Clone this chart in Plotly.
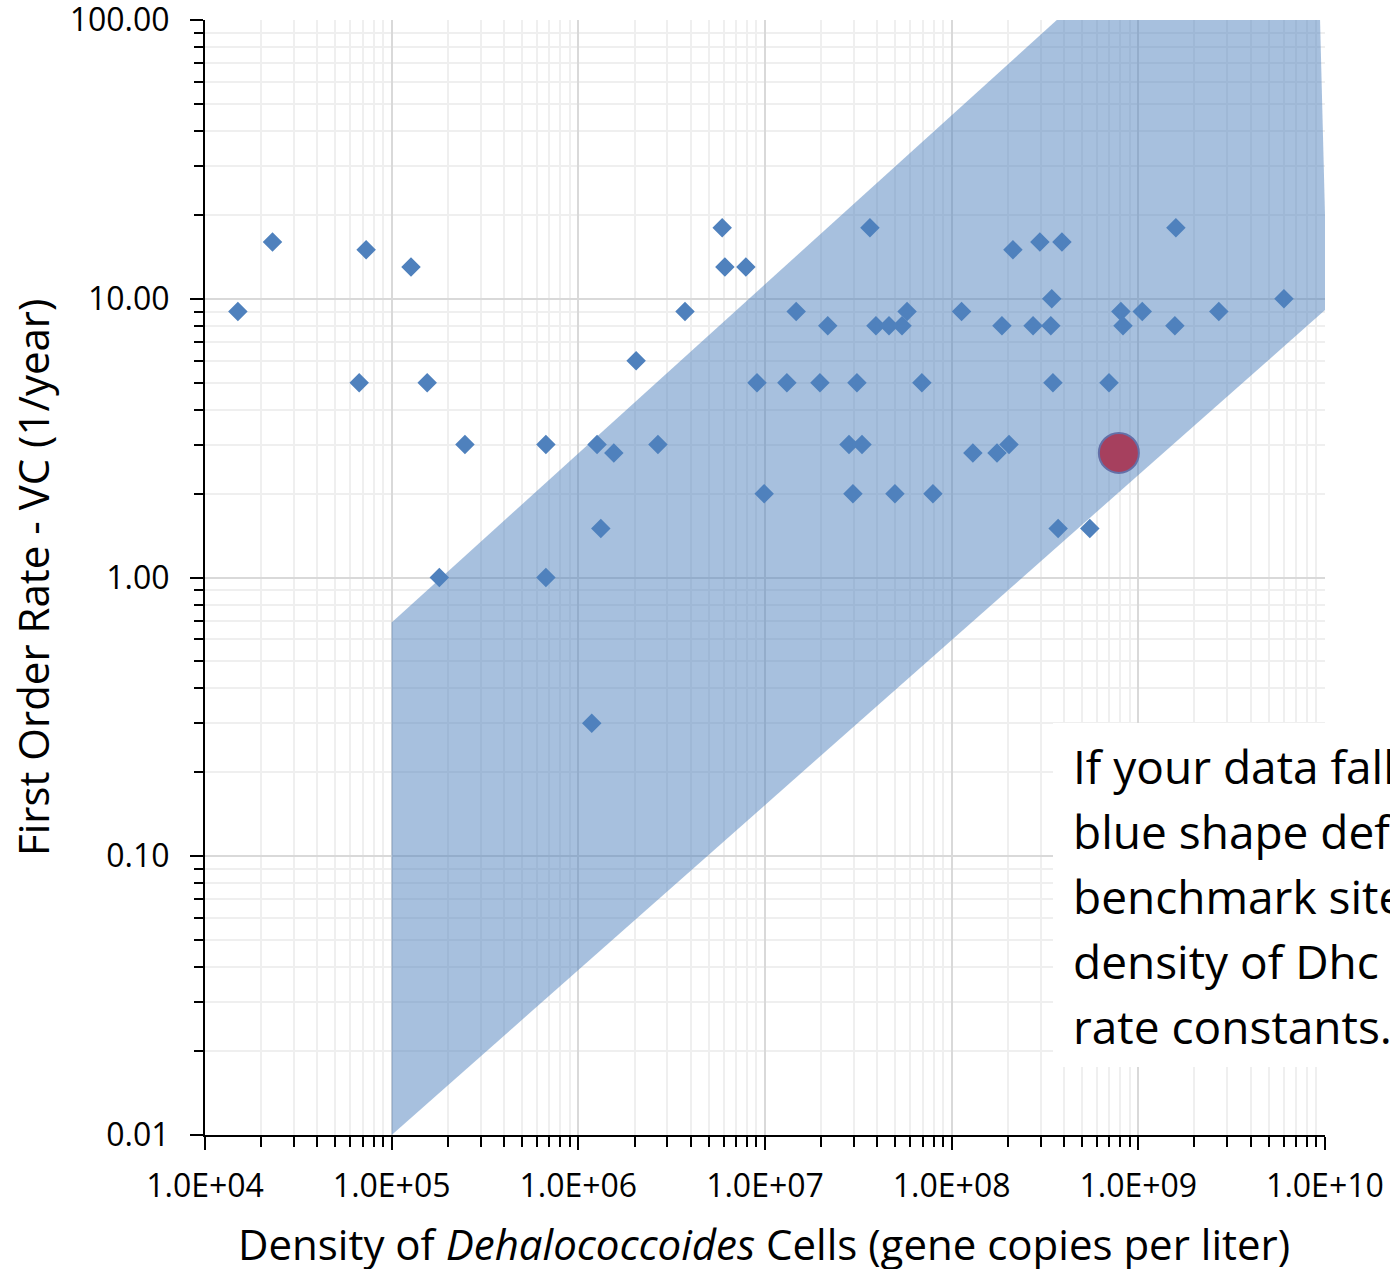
import plotly.graph_objects as go

# ---- data ----
dhc_density = [1.5e4, 2.3e4, 7.3e4, 6.7e4, 1.27e5, 1.55e5, 2.47e5, 1.8e5, 6.7e5, 6.7e5,
               1.18e6, 1.26e6, 1.32e6, 1.55e6, 2.04e6, 2.67e6, 3.73e6, 5.9e6, 6.1e6, 7.9e6,
               9.06e6, 9.9e6, 1.31e7, 1.47e7, 1.97e7, 2.17e7, 2.82e7, 2.96e7, 3.11e7, 3.31e7,
               3.65e7, 3.93e7, 4.62e7, 4.97e7, 5.42e7, 5.77e7, 6.93e7, 7.94e7, 1.13e8, 1.3e8,
               1.75e8, 2.03e8, 1.86e8, 2.13e8, 2.97e8, 2.73e8, 3.4e8, 3.44e8, 3.49e8, 3.72e8,
               3.9e8, 5.5e8, 6.97e8, 8.07e8, 8.28e8, 1.05e9, 1.57e9, 1.59e9, 2.7e9, 6.03e9]
vc_rate = [9, 16, 15, 5, 13, 5, 3, 1, 3, 1,
           0.3, 3, 1.5, 2.8, 6, 3, 9, 18, 13, 13,
           5, 2, 5, 9, 5, 8, 3, 2, 5, 3,
           18, 8, 8, 2, 8, 9, 5, 2, 9, 2.8,
           2.8, 3, 8, 15, 16, 8, 8, 10, 5, 1.5,
           16, 1.5, 5, 9, 8, 9, 8, 18, 9, 10]

your_site_density = [7.87e8]
your_site_rate = [2.8]

# benchmark envelope (polygon vertices)
envelope_x = [1e5, 1e5, 3.9e8, 9.4e9, 1.03e10, 1e5]
envelope_y = [0.01, 0.69, 104, 104, 9.27, 0.01]

x_tickvals = [1e4, 1e5, 1e6, 1e7, 1e8, 1e9, 1e10]
x_ticktext = ["1.0E+04", "1.0E+05", "1.0E+06", "1.0E+07", "1.0E+08", "1.0E+09", "1.0E+10"]
y_tickvals = [0.01, 0.1, 1, 10, 100]
y_ticktext = ["0.01", "0.10", "1.00", "10.00", "100.00"]

x_title = "Density of <i>Dehalococcoides</i> Cells (gene copies per liter)"
y_title = "First Order Rate - VC (1/year)"

note_lines = ["If your data falls within the",
              "blue shape defined by the",
              "benchmark sites, the",
              "density of Dhc supports the",
              "rate constants."]

x_minor = [k * 10 ** d for d in range(4, 10) for k in range(2, 10)]
y_minor = [k * 10.0 ** d for d in range(-2, 2) for k in range(2, 10)]

FONT = "Open Sans"

fig = go.Figure()
fig.add_trace(go.Scatter(x=envelope_x, y=envelope_y, mode="lines", fill="toself",
                         fillcolor="rgba(79,129,189,0.5)", line=dict(width=0),
                         hoverinfo="skip", showlegend=False))
fig.add_trace(go.Scatter(x=dhc_density, y=vc_rate, mode="markers",
                         marker=dict(symbol="diamond", size=15, color="#4f81bd",
                                     line=dict(width=0)),
                         showlegend=False))
fig.add_trace(go.Scatter(x=your_site_density, y=your_site_rate, mode="markers",
                         marker=dict(symbol="circle", size=40, color="#a6405e",
                                     line=dict(width=2, color="#6470a8")),
                         showlegend=False))

axis_common = dict(
    type="log", showline=True, linecolor="black", linewidth=2, mirror=False,
    ticks="outside", ticklen=13, tickwidth=2, tickcolor="black",
    showgrid=True, gridcolor="#d9d9d9", gridwidth=1.5, zeroline=False,
    tickfont=dict(family=FONT, size=32, color="black"), automargin=False,
    ticklabeloverflow="allow",
)

fig.update_xaxes(**axis_common, range=[4, 10.0003], tickmode="array",
                 tickvals=x_tickvals, ticktext=x_ticktext, ticklabelstandoff=9,
                 minor=dict(tickvals=x_minor, ticks="outside", ticklen=10, tickwidth=2,
                            tickcolor="black", showgrid=True, gridcolor="#efefef",
                            gridwidth=1.5))
fig.update_yaxes(**axis_common, range=[-2, 2.0003], tickmode="array",
                 tickvals=y_tickvals, ticktext=y_ticktext, ticklabelstandoff=14,
                 minor=dict(tickvals=y_minor, ticks="outside", ticklen=9, tickwidth=2,
                            tickcolor="black", showgrid=True, gridcolor="#efefef",
                            gridwidth=1.5))

W, H = 1390, 1269
ml, mr, mt, mb = 205, 65, 20, 134
pw, ph = W - ml - mr, H - mt - mb

def px_x(p):
    return (p - ml) / pw

def px_y(p):
    return (H - mb - p) / ph

# axis titles
fig.add_annotation(xref="paper", yref="paper", x=px_x(764), y=px_y(1243),
                   text=x_title, showarrow=False, xanchor="center", yanchor="middle",
                   font=dict(family=FONT, size=42, color="black"))
fig.add_annotation(xref="paper", yref="paper", x=px_x(33), y=px_y(578),
                   text=y_title, showarrow=False, xanchor="center", yanchor="middle",
                   textangle=-90, font=dict(family=FONT, size=42, color="black"))

# white note box
fig.add_shape(type="rect", xref="paper", yref="paper",
              x0=px_x(1053), x1=px_x(1400), y0=px_y(1067), y1=px_y(723),
              fillcolor="white", line=dict(width=0), layer="above")
for i, line in enumerate(note_lines):
    baseline = 783 + 65 * i
    fig.add_annotation(xref="paper", yref="paper", x=px_x(1071), y=px_y(baseline - 17),
                       text=line, showarrow=False, xanchor="left", yanchor="middle",
                       font=dict(family=FONT, size=46, color="black"), align="left")

fig.update_layout(width=W, height=H, margin=dict(l=ml, r=mr, t=mt, b=mb),
                  plot_bgcolor="white", paper_bgcolor="white",
                  font=dict(family=FONT, color="black"))

fig.write_html("out.html")
